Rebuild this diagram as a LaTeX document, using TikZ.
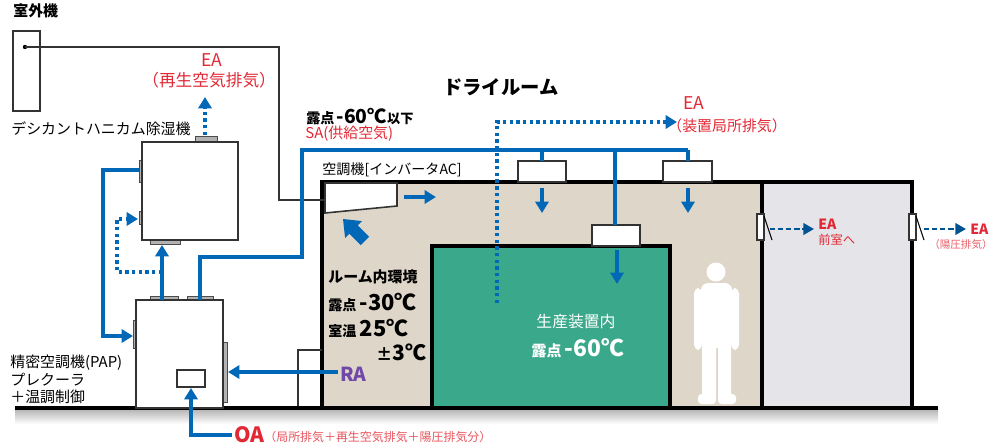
\documentclass[tikz,border=0pt]{standalone}
\usepackage{fontspec}
\setmainfont{Noto Sans CJK JP}
\usetikzlibrary{arrows.meta}

\definecolor{ductblue}{RGB}{0,104,183}
\definecolor{eared}{RGB}{226,40,52}
\definecolor{roombeige}{RGB}{222,214,200}
\definecolor{frontgray}{RGB}{228,228,233}
\definecolor{machgreen}{RGB}{58,168,138}
\definecolor{rapurple}{RGB}{112,72,170}

\newcommand\fsz[1]{\fontsize{#1}{#1}\selectfont}

\tikzset{
	duct/.style={line width=2pt, color=ductblue},
	ductarrow/.style={duct, -{Triangle[length=6.5pt,width=7.5pt]}},
	dotarrow/.style={line width=1.9pt, color=ductblue, dash pattern=on 1.9pt off 1.9pt, -{Triangle[length=6.5pt,width=7.5pt]}},
	dasharrow/.style={line width=1.3pt, color=ductblue!80!black, dash pattern=on 3pt off 1.6pt, -{Triangle[length=6pt,width=6.5pt]}},
	wall/.style={line width=1.8pt, black},
	unitbox/.style={draw=black!80, line width=0.9pt, fill=white},
	port/.style={draw=black!70, line width=0.5pt, fill=black!30},
	lbl/.style={inner sep=0pt, anchor=west},
	redlbl/.style={lbl, text=eared}
}

\begin{document}
\begin{tikzpicture}[x=0.02cm, y=-0.02cm]
			%%%%% START %%%%%
			\useasboundingbox (0,0) rectangle (996,443);
			
			% floor shadow
			\shade[top color=black!30, bottom color=white] (15,409) rectangle (938,424);
			
			% dry room and front room
			\fill[roombeige] (322,182) rectangle (762,408);
			\fill[frontgray] (762,182) rectangle (912,408);
			\draw[wall] (322,408) -- (322,182) -- (912,182) -- (912,408);
			\draw[wall] (762,182) -- (762,408);
			
			% production equipment
			\draw[wall, fill=machgreen] (432,408) -- (432,246) -- (670,246) -- (670,408);
			\draw[unitbox] (592,225) rectangle (640,246);
			
			% ceiling units
			\draw[unitbox] (518,161) rectangle (566,182);
			\draw[unitbox] (663,161) rectangle (712,182);
			
			% air conditioner (inverter)
			\draw[unitbox] (325,183) -- (397,183) -- (397,206) -- (325,213) -- cycle;
			
			% person in clean suit
			\begin{scope}[fill=white]
				\fill (716,272) circle (9.5);
				\fill[rounded corners=4] (701,283) rectangle (732,348);
				\fill[rounded corners=3] (694,288) rectangle (702,350);
				\fill[rounded corners=3] (731,288) rectangle (739,350);
				\fill[rounded corners=2] (702,340) rectangle (716,400);
				\fill[rounded corners=2] (718,340) rectangle (731,400);
				\fill[rounded corners=2] (698,394) rectangle (716,404);
				\fill[rounded corners=2] (718,394) rectangle (736,404);
			\end{scope}
			
			% doors
			\draw[unitbox, line width=0.6pt] (757,214) rectangle (764,240);
			\draw[line width=0.6pt] (764,216) -- (772,240);
			\draw[unitbox, line width=0.6pt] (909,214) rectangle (916,240);
			\draw[line width=0.6pt] (916,216) -- (924,240);
			
			% small duct box at left wall
			\draw[line width=0.9pt, black!80] (298,408) -- (298,350) -- (322,350);
			
			% floor
			\draw[line width=1.9pt] (15,408) -- (938,408);
			
			% outdoor unit
			\draw[line width=0.9pt, black!80, fill=white] (13,31) rectangle (40,111);
			\fill (25,47) circle (2.2);
			\draw[line width=0.9pt, black!80] (25,47) -- (279,47) -- (279,200) -- (325,200);
			
			% desiccant honeycomb dehumidifier
			\draw[port] (195,136) rectangle (217,142);
			\draw[port] (139,160) rectangle (142,182);
			\draw[port] (139,211) rectangle (142,224);
			\draw[port] (150,240) rectangle (180,244);
			\draw[unitbox] (142,142) rectangle (238,240);
			
			% precision air conditioner (PAP)
			\draw[port] (150,296) rectangle (178,300);
			\draw[port] (187,296) rectangle (213,300);
			\draw[port] (133,320) rectangle (136,348);
			\draw[port] (223,342) rectangle (227,402);
			\draw[unitbox] (136,300) rectangle (223,408);
			\draw[unitbox] (177,370) rectangle (205,387);
			
			% supply air
			\draw[duct] (200,300) -- (200,257) -- (302,257) -- (302,150) -- (688,150);
			\draw[duct] (542,150) -- (542,161);
			\draw[duct] (688,150) -- (688,161);
			\draw[duct] (615,150) -- (615,225);
			\draw[ductarrow] (542,188) -- (542,213);
			\draw[ductarrow] (688,188) -- (688,213);
			\draw[ductarrow] (617,250) -- (617,284);
			\draw[ductarrow] (404,197) -- (436,197);
			
			% return air into the air conditioner
			\fill[ductblue] (343,219) -- (362.1,221.1) -- (357.8,225.4) -- (369.1,236.7)
				-- (360.7,245.1) -- (349.4,233.8) -- (345.1,238.1) -- cycle;
			
			% dehumidifier loop
			\draw[ductarrow] (162,300) -- (162,245);
			\draw[ductarrow] (139,170) -- (103,170) -- (103,336) -- (133,336);
			\draw[dotarrow] (162,272) -- (117,272) -- (117,219) -- (138,219);
			
			% RA and OA
			\draw[ductarrow] (338,372) -- (228,372);
			\draw[ductarrow] (232,435) -- (191,435) -- (191,388);
			
			% exhaust
			\draw[dotarrow] (205,135) -- (205,97);
			\draw[dotarrow] (497,303) -- (497,122) -- (677,122);
			\draw[dasharrow] (770,229) -- (814,229);
			\draw[dasharrow] (924,229) -- (966,229);
			
			% labels
			\node[lbl] (outdoor) at (13,11) {\fsz{8.5}\bfseries 室外機};
			\node[redlbl] (regenea) at (201,60) {\fsz{10}EA};
			\node[redlbl] (regentxt) at (142,80) {\fsz{9.5}（再生空気排気）};
			\node[lbl] (desiccant) at (11,129) {\fsz{8.5}デシカントハニカム除湿機};
			\node[inner sep=0pt] (dryroom) at (501,87) {\fsz{11}\bfseries ドライルーム};
			\node[lbl] (sadew) at (306,117) {\fsz{8}\bfseries 露点\,\fsz{11}-60℃\fsz{7.5}以下};
			\node[redlbl] (satxt) at (305,134) {\fsz{8.5}SA(供給空気)};
			\node[lbl] (actxt) at (322,170) {\fsz{8}空調機[インバータAC]};
			\node[redlbl] (equipea) at (683,103) {\fsz{10}EA};
			\node[redlbl] (equiptxt) at (667,126) {\fsz{8.5}（装置局所排気）};
			\node[lbl] (roomenv) at (328,277) {\fsz{8.5}\bfseries ルーム内環境};
			\node[lbl] (roomdew) at (328,302) {\fsz{8}\bfseries 露点 \fsz{12.5}-30℃};
			\node[lbl] (roomtemp) at (328,328) {\fsz{8}\bfseries 室温 \fsz{12.5}25℃};
			\node[lbl] (roomtol) at (376,352) {\bfseries\fsz{9}±\fsz{12}3℃};
			\node[lbl, text=rapurple] (ratxt) at (340,374) {\fsz{11}\bfseries RA};
			\node[inner sep=0pt, text=white] (equipin) at (576,322) {\fsz{9}生産装置内};
			\node[inner sep=0pt, text=white] (equipdew) at (578,348) {\fsz{8.5}\bfseries 露点 \fsz{13}-60℃};
			\node[redlbl] (frontea) at (818,224) {\fsz{8}\bfseries EA};
			\node[redlbl] (fronttxt) at (818,240) {\fsz{7}前室へ};
			\node[redlbl] (posea) at (970,229) {\fsz{8}\bfseries EA};
			\node[lbl, text=eared!75] (postxt) at (929,244) {\fsz{6}（陽圧排気）};
			\node[lbl] (paptxt) at (10,363) {\fsz{8.5}精密空調機(PAP)};
			\node[lbl] (precool) at (10,380) {\fsz{8.5}プレクーラ};
			\node[lbl] (tempctl) at (10,397) {\fsz{8.5}＋温調制御};
			\node[redlbl] (oatxt) at (234,435) {\fsz{12}\bfseries OA};
			\node[lbl, text=eared!80] (oasum) at (264,437) {\fsz{6.8}（局所排気＋再生空気排気＋陽圧排気分）};
			
			%%%%% END %%%%%
		\end{tikzpicture}
\end{document}
